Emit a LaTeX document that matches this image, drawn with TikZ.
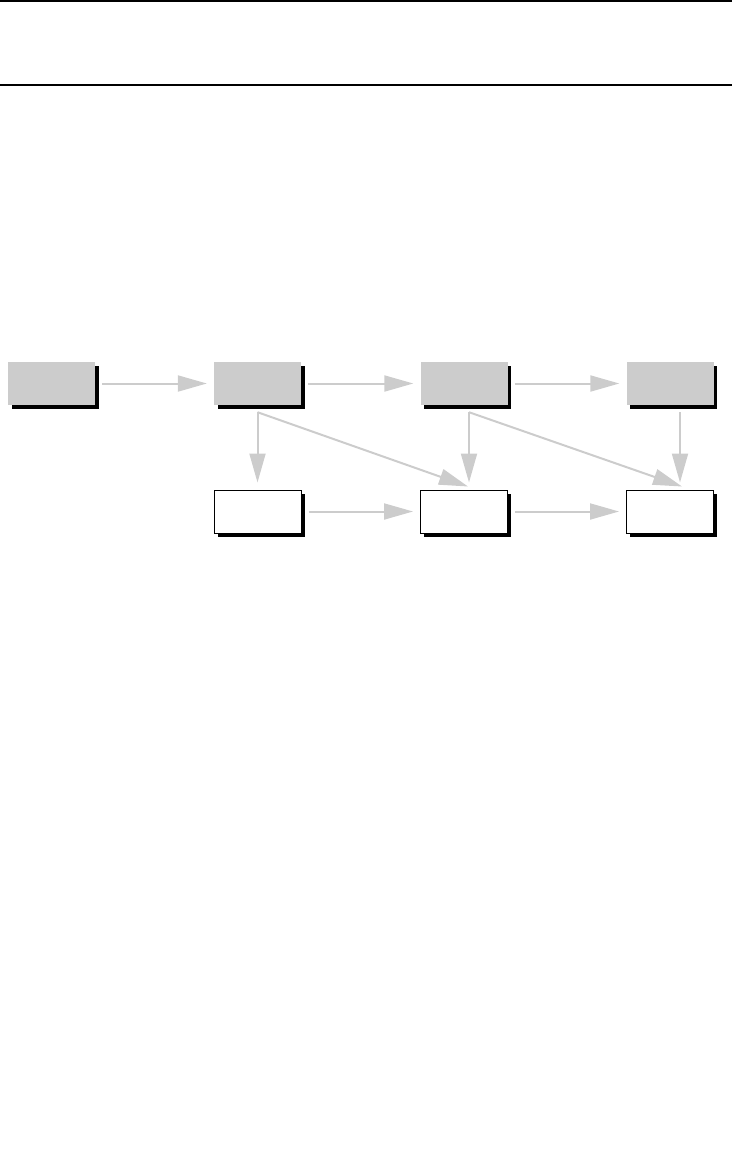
\documentclass[tikz,border=0pt]{standalone}
\usetikzlibrary{arrows.meta,shadows}

\tikzset{
  block/.style={minimum width=87pt, minimum height=43pt, inner sep=0pt,
    drop shadow={shadow xshift=3.5pt, shadow yshift=-3.5pt, fill=black, opacity=1}},
  grayblock/.style={block, fill=gray!40},
  whiteblock/.style={block, draw=black, line width=1pt, fill=white},
  link/.style={draw=gray!40, line width=2pt, -{Triangle[length=29pt,width=16pt]}},
}

\begin{document}
\begin{tikzpicture}[x=1pt,y=-1pt]
\useasboundingbox (0,0) rectangle (732,1173);

\draw[line width=1.3pt] (0,1) -- (732,1);
\draw[line width=1.3pt] (0,85) -- (732,85);

% upper row
\node[grayblock] (g1) at (51.5,383.5) {};
\node[grayblock] (g2) at (257.5,383.5) {};
\node[grayblock] (g3) at (464,383.5) {};
\node[grayblock] (g4) at (670,383.5) {};

% lower row
\node[whiteblock] (w1) at (257.5,511.5) {};
\node[whiteblock] (w2) at (464,511.5) {};
\node[whiteblock] (w3) at (670,511.5) {};

\draw[link, shorten <=7pt, shorten >=7pt] (g1) -- (g2);
\draw[link, shorten <=7pt, shorten >=7pt] (g2) -- (g3);
\draw[link, shorten <=7pt, shorten >=7pt] (g3) -- (g4);
\draw[link, shorten <=7pt, shorten >=7pt] (w1) -- (w2);
\draw[link, shorten <=7pt, shorten >=7pt] (w2) -- (w3);

\draw[link, shorten <=7pt, shorten >=7pt] (g2.south) -- (w1.north);
\draw[link, shorten <=7pt, shorten >=7pt] ([xshift=5pt]g3.south) -- ([xshift=5pt]w2.north);
\draw[link, shorten <=7pt, shorten >=7pt] ([xshift=10pt]g4.south) -- ([xshift=10pt]w3.north);

\draw[link] ([yshift=-7pt]g2.south) -- ([xshift=4pt,yshift=3pt]w2.north);
\draw[link] ([xshift=5pt,yshift=-7pt]g3.south) -- ([xshift=12pt,yshift=3pt]w3.north);

\end{tikzpicture}
\end{document}
